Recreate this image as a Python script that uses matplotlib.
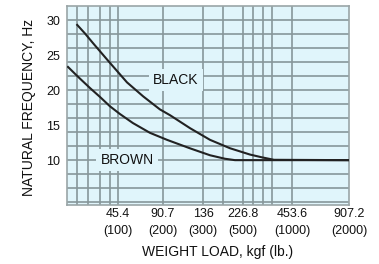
import numpy as np
import matplotlib
matplotlib.use("Agg")
import matplotlib.pyplot as plt

# ---- data ----
black_lb = [20, 35, 51, 84, 120, 156, 193, 218, 268, 335, 435, 571, 694, 816, 2000]
black_hz = [29.3, 28.1, 26.7, 23.9, 21.1, 19.1, 17.25, 16.4, 14.55, 12.9, 11.7, 10.8, 10.4, 10.05, 10.0]
brown_lb = [2, 16, 26, 45, 65, 84, 104, 133, 171, 210, 267, 335, 410, 460, 2000]
brown_hz = [23.3, 22.3, 21.6, 20.3, 19.0, 17.7, 16.6, 15.3, 13.9, 12.9, 11.7, 10.7, 10.2, 10.0, 10.0]

xtick_lb = [100, 200, 300, 500, 1000, 2000]
xtick_kgf = ["45.4", "90.7", "136", "226.8", "453.6", "907.2"]
xgrid_lb = [20, 42, 64, 84, 100, 200, 300, 400, 500, 600, 700, 800, 1000]
ytick_vals = [10, 15, 20, 25, 30]
ygrid_vals = list(range(4, 31, 2))

# ---- non-uniform chart x scale (piecewise linear) ----
knots_lb = [0, 100, 200, 300, 500, 1000, 2000]
knots_pos = [0, 51, 96, 136, 176, 225, 282]

def fwd(x):
    return np.interp(x, knots_lb, knots_pos)

def inv(x):
    return np.interp(x, knots_pos, knots_lb)

plt.rcParams['font.family'] = ['Liberation Sans', 'DejaVu Sans']

W, H = 379, 264
fig = plt.figure(figsize=(W / 100, H / 100), dpi=100)
ax = fig.add_axes([67 / W, 1 - 205 / H, (349 - 67) / W, (205 - 6) / H])
ax.set_xscale('function', functions=(fwd, inv))
ax.set_xlim(0, 2000)
ax.set_ylim(3.6, 32)
bgc = '#e0f5fb'
ax.set_facecolor(bgc)

gcol = '#87979a'
for v in ygrid_vals:
    ax.axhline(v, color=gcol, lw=1.2, zorder=1)
for v in xgrid_lb:
    ax.axvline(v, color=gcol, lw=1.2, zorder=1)

ax.plot(black_lb, black_hz, color='#222222', lw=1.5, zorder=3)
ax.plot(brown_lb, brown_hz, color='#222222', lw=1.5, zorder=3)

bg = dict(facecolor=bgc, edgecolor='none', pad=3)
ax.text(232, 21.4, "BLACK", fontsize=10, ha='center', va='center', zorder=2,
        color='#111111', bbox=bg)
ax.text(120, 10.0, "BROWN", fontsize=10, ha='center', va='center', zorder=2,
        color='#111111', bbox=bg)

ax.set_xticks(xtick_lb)
ax.set_xticklabels([f"{k}\n({l})" for k, l in zip(xtick_kgf, xtick_lb)])
ax.set_xticks([], minor=True)
ax.set_yticks(ytick_vals)
ax.set_yticklabels([str(v) for v in ytick_vals])
ax.tick_params(axis='both', length=0, labelsize=9, colors='#111111')
ax.tick_params(axis='x', pad=2.5)
ax.tick_params(axis='y', pad=5)
for lab in ax.get_xticklabels():
    lab.set_linespacing(1.5)

for s in ax.spines.values():
    s.set_color('#9aa5a7')
    s.set_linewidth(1.2)

ax.set_ylabel("NATURAL FREQUENCY, Hz", fontsize=10, color='#111111')
ax.yaxis.set_label_coords(-31 / (349 - 67), 0.49)
fig.text(218 / W, 1 - 252 / H, "WEIGHT LOAD, kgf (lb.)", fontsize=10,
         ha='center', va='center', color='#111111')

fig.savefig("out.png", dpi=100, facecolor='white')
